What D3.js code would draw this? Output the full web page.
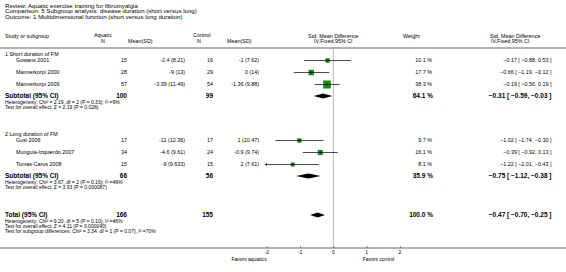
<!DOCTYPE html>
<html>
<head>
<meta charset="utf-8">
<script src="https://cdn.jsdelivr.net/npm/d3@7"></script>
<style>
  body { margin: 0; background: #fff; }
  svg { display: block; font-family: "Liberation Sans", Arial, sans-serif; }
</style>
</head>
<body>
<div id="chart"></div>
<script>
// --- data ---
var titleLines = [
    "Review:  Aquatic exercise training for fibromyalgia",
    "Comparison:  5 Subgroup analysis: disease duration (short versus long)",
    "Outcome:  1 Multidimensional function (short versus long duration)"
];

var groupNames = ["1 Short duration of FM", "2 Long duration of FM"];

var studyNames = ["Gowans 2001", "Mannerkorpi 2000", "Mannerkorpi 2009",
                  "Gusi 2006", "Munguia-Izquierdo 2007", "Tomas-Carus 2008"];
var studyGroup = [0, 0, 0, 1, 1, 1];
var aquaticN = [15, 28, 57, 17, 34, 15];
var aquaticMeanSD = ["-2.4 (8.21)", "-9 (13)", "-3.39 (11.49)", "-11 (12.36)", "-4.6 (9.61)", "-9 (9.633)"];
var controlN = [16, 29, 54, 17, 24, 15];
var controlMeanSD = ["-1 (7.62)", "0 (14)", "-1.36 (9.88)", "1 (10.47)", "-0.9 (9.74)", "2 (7.61)"];
var weights = [10.1, 17.7, 38.3, 9.7, 16.1, 8.1];
var smd = [-0.17, -0.66, -0.19, -1.02, -0.39, -1.22];
var ciLow = [-0.88, -1.19, -0.56, -1.74, -0.92, -2.01];
var ciHigh = [0.53, -0.12, 0.19, -0.30, 0.13, -0.43];

var subtotalAquaticN = [100, 66];
var subtotalControlN = [99, 56];
var subtotalWeight = [64.1, 35.9];
var subtotalSmd = [-0.31, -0.75];
var subtotalLow = [-0.59, -1.12];
var subtotalHigh = [-0.03, -0.38];
var subtotalNotes = [
    ["Heterogeneity: Chi\u00b2 = 2.19, df = 2 (P = 0.33); I\u00b2 =9%", "Test for overall effect: Z = 2.19 (P = 0.028)"],
    ["Heterogeneity: Chi\u00b2 = 3.67, df = 2 (P = 0.16); I\u00b2 =46%", "Test for overall effect: Z = 3.93 (P = 0.000087)"]
];

var totalAquaticN = 166;
var totalControlN = 155;
var totalWeight = 100.0;
var totalSmd = -0.47, totalLow = -0.70, totalHigh = -0.25;
var totalNotes = [
    "Heterogeneity: Chi\u00b2 = 9.20, df = 5 (P = 0.10); I\u00b2 =46%",
    "Test for overall effect: Z = 4.11 (P = 0.000040)",
    "Test for subgroup differences: Chi\u00b2 = 3.34, df = 1 (P = 0.07), I\u00b2 =70%"
];

var axisTicks = [-2, -1, 0, 1, 2];
var favoursLeft = "Favors aquatics";
var favoursRight = "Favors control";

// --- layout ---
var width = 566, height = 272;
var small = 5, normal = 5.4, bold = 6.5;

var svg = d3.select("#chart").append("svg").attr("width", width).attr("height", height);

var x = d3.scaleLinear().domain([-2, 2]).range([266.7, 400]);
var side = d3.scaleSqrt().domain([0, 38.3]).range([0, 7.3]);

var groupTop = [54, 134];
var rowStep = 12;
var totalY = 215;
var axisY = 248;

function fmt2(v) { return d3.format(".2f")(v); }
function ciText(m, lo, hi) { return fmt2(m) + " [ " + fmt2(lo) + ", " + fmt2(hi) + " ]"; }

function txt(xp, yp, s, size, anchor, weight) {
    svg.append("text")
        .attr("x", xp).attr("y", yp)
        .attr("dy", "0.35em")
        .attr("font-size", size)
        .attr("font-weight", weight || "normal")
        .attr("text-anchor", anchor || "start")
        .attr("fill", "#000")
        .text(s);
}

// title
titleLines.forEach(function (t, i) { txt(5, 5.5 + i * 5.8, t, 6.1); });

// headers
txt(5, 36, "Study or subgroup", normal);
txt(94, 35.5, "Aquatic", normal);
txt(101, 41.5, "N", normal);
txt(128, 41.5, "Mean(SD)", normal);
txt(193, 35.5, "Control", normal);
txt(197, 41.5, "N", normal);
txt(227, 41.5, "Mean(SD)", normal);
txt(x(0), 36, "Std. Mean Difference", normal, "middle");
txt(x(0), 41.5, "IV,Fixed,95% CI", normal, "middle");
txt(403, 36, "Weight", normal);
txt(490, 36, "Std. Mean Difference", normal);
txt(491, 41.5, "IV,Fixed,95% CI", normal);

svg.append("line").attr("x1", 0).attr("x2", width).attr("y1", 48).attr("y2", 48)
    .attr("stroke", "#999").attr("stroke-width", 1.5);

// zero line
svg.append("line").attr("x1", x(0)).attr("x2", x(0)).attr("y1", 49).attr("y2", axisY)
    .attr("stroke", "#aaa").attr("stroke-width", 0.8);

svg.append("defs").append("marker")
    .attr("id", "arr").attr("viewBox", "0 0 6 6").attr("refX", 1).attr("refY", 3)
    .attr("markerWidth", 4).attr("markerHeight", 4).attr("orient", "auto-start-reverse")
    .append("path").attr("d", "M0,0L6,3L0,6z").attr("fill", "#000");

function diamond(yp, m, lo, hi, h) {
    svg.append("path")
        .attr("d", "M" + x(lo) + "," + yp + "L" + x(m) + "," + (yp - h / 2) +
            "L" + x(hi) + "," + yp + "L" + x(m) + "," + (yp + h / 2) + "Z")
        .attr("fill", "#000");
}

groupNames.forEach(function (g, gi) {
    var top = groupTop[gi];
    txt(5, top, g, normal);
    var rows = d3.range(studyNames.length).filter(function (i) { return studyGroup[i] === gi; });
    rows.forEach(function (i, k) {
        var yp = top + 6.5 + k * rowStep;
        txt(16, yp, studyNames[i], normal);
        txt(127, yp, aquaticN[i], normal, "end");
        txt(185, yp, aquaticMeanSD[i], normal, "end");
        txt(213, yp, controlN[i], normal, "end");
        txt(259, yp, controlMeanSD[i], normal, "end");
        txt(432, yp, d3.format(".1f")(weights[i]) + " %", normal, "end");
        txt(551.5, yp, ciText(smd[i], ciLow[i], ciHigh[i]), normal, "end");

        var lo = Math.max(ciLow[i], -2), hi = Math.min(ciHigh[i], 2);
        var s = side(weights[i]);
        svg.append("rect")
            .attr("x", x(smd[i]) - s / 2).attr("y", yp - s / 2)
            .attr("width", s).attr("height", s)
            .attr("fill", "#0a960a").attr("stroke", "#066006").attr("stroke-width", 0.4);
        var ci = svg.append("line")
            .attr("x1", x(hi)).attr("x2", x(lo)).attr("y1", yp).attr("y2", yp)
            .attr("stroke", "#000").attr("stroke-width", 0.7);
        if (ciLow[i] < -2) ci.attr("marker-end", "url(#arr)");
        svg.append("line")
            .attr("x1", x(smd[i])).attr("x2", x(smd[i])).attr("y1", yp - 1.2).attr("y2", yp + 1.2)
            .attr("stroke", "#000").attr("stroke-width", 0.7);
    });
    var sy = top + 6.5 + rows.length * rowStep - 0.5;
    txt(5, sy, "Subtotal (95% CI)", bold, "start", "bold");
    txt(127, sy, subtotalAquaticN[gi], bold, "end", "bold");
    txt(213, sy, subtotalControlN[gi], bold, "end", "bold");
    txt(433, sy, d3.format(".1f")(subtotalWeight[gi]) + " %", bold, "end", "bold");
    txt(551.5, sy, ciText(subtotalSmd[gi], subtotalLow[gi], subtotalHigh[gi]), bold, "end", "bold");
    diamond(sy, subtotalSmd[gi], subtotalLow[gi], subtotalHigh[gi], 5);
    subtotalNotes[gi].forEach(function (n, j) { txt(5, sy + 6.5 + j * 5, n, small); });
});

// total
txt(5, totalY, "Total (95% CI)", bold, "start", "bold");
txt(127, totalY, totalAquaticN, bold, "end", "bold");
txt(213, totalY, totalControlN, bold, "end", "bold");
txt(433, totalY, d3.format(".1f")(totalWeight) + " %", bold, "end", "bold");
txt(551.5, totalY, ciText(totalSmd, totalLow, totalHigh), bold, "end", "bold");
diamond(totalY, totalSmd, totalLow, totalHigh, 5);
totalNotes.forEach(function (n, j) { txt(5, totalY + 6.5 + j * 5, n, small); });

// axis
svg.append("line").attr("x1", 0).attr("x2", width).attr("y1", axisY).attr("y2", axisY)
    .attr("stroke", "#999").attr("stroke-width", 1.5);
var ax = svg.append("g").attr("transform", "translate(0," + axisY + ")")
    .call(d3.axisTop(x).tickValues(axisTicks).tickSize(2).tickFormat(function () { return ""; }));
ax.select(".domain").remove();
ax.selectAll(".tick line").attr("stroke", "#444").attr("stroke-width", 0.6);
axisTicks.forEach(function (t) { txt(x(t), axisY + 4.5, t, small, "middle"); });
txt(x(-2), axisY + 11, favoursLeft, small, "end");
txt(x(1) - 4, axisY + 11, favoursRight, small, "start");
</script>
</body>
</html>
